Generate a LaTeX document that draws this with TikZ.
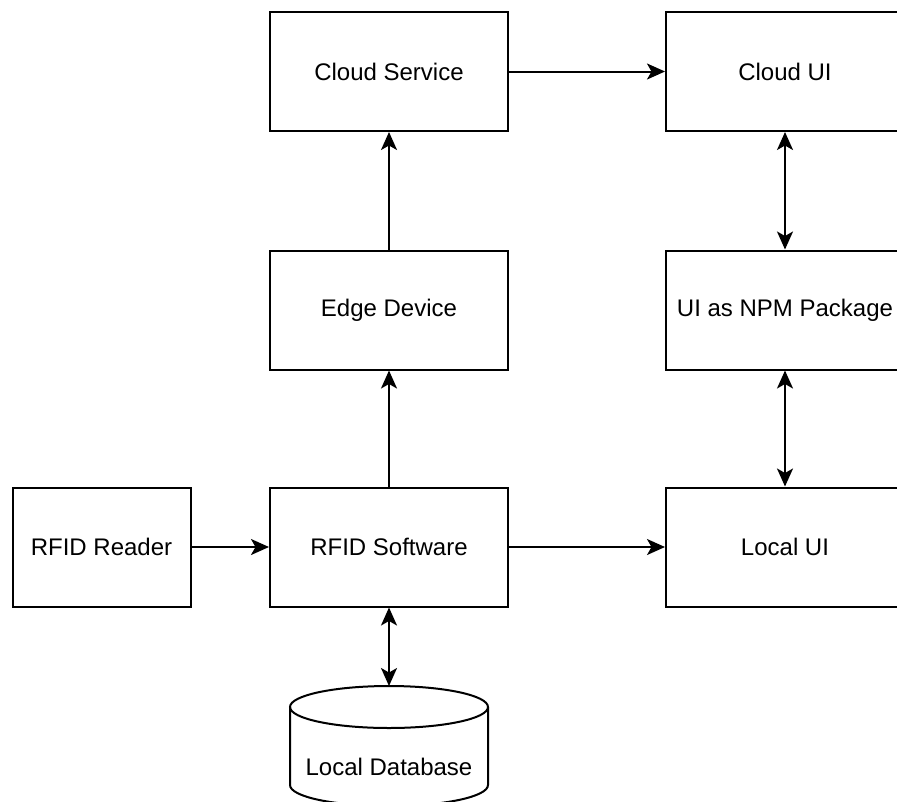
\documentclass[tikz,border=0pt]{standalone}
\usepackage{fontspec}
\setmainfont{Liberation Sans}
\usetikzlibrary{arrows.meta}
\begin{document}
\begin{tikzpicture}[x=1pt,y=-1pt, line width=2pt,
  block/.style={draw, minimum width=238pt, minimum height=119pt,
    inner sep=0pt, font=\fontsize{24}{28}\selectfont},
  lbl/.style={inner sep=0pt, font=\fontsize{24}{28}\selectfont},
  tip/.tip={Stealth[length=18pt,width=16pt,inset=4.5pt]},
  flow/.style={-tip},
  both/.style={tip-tip}]
  \useasboundingbox (0,0) rectangle (897,801);
  \clip (0,0) rectangle (897,801);

  % blocks
  \node[block] (cloudsvc) at (389,71.5) {Cloud Service};
  \node[block] (cloudui)  at (785,71.5) {Cloud UI};
  \node[block] (edge)     at (389,310) {Edge Device};
  \node[block] (npm)      at (785,310) {UI as NPM Package};
  \node[block, minimum width=178pt] (reader) at (101.5,547) {RFID Reader};
  \node[block] (software) at (389,547) {RFID Software};
  \node[block] (localui)  at (785,547) {Local UI};

  % database cylinder: top ellipse, then sides and lower rim
  \draw (389,707) ellipse [x radius=99pt, y radius=21pt];
  \draw (290,707) -- (290,785)
        .. controls (290,796.6) and (333.3,806) .. (389,806)
        .. controls (444.7,806) and (488,796.6) .. (488,785) -- (488,707);
  \coordinate (dbtop) at (389,686);
  \node[lbl] (db) at (389,767) {Local Database};

  % connectors
  \draw[flow] (cloudsvc) -- (cloudui);
  \draw[flow] (edge) -- (cloudsvc);
  \draw[flow] (software) -- (edge);
  \draw[flow] (reader) -- (software);
  \draw[flow] (software) -- (localui);
  \draw[both] (cloudui) -- (npm);
  \draw[both] (npm) -- (localui);
  \draw[both] (software) -- (dbtop);
\end{tikzpicture}
\end{document}
